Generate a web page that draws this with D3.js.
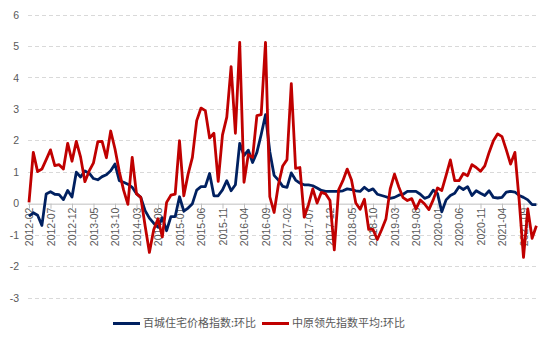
<!DOCTYPE html>
<html>
<head>
<meta charset="utf-8">
<script src="https://cdn.jsdelivr.net/npm/d3@7"></script>
<style>
  html, body { margin: 0; padding: 0; background: #fff; }
  svg { display: block; }
</style>
</head>
<body>
<svg id="chart" width="554" height="343"></svg>
<script>
// ---- data ----
const startMonth = "2012-02";
const monthCount = 119; // 2012-02 .. 2021-12
const parse = d3.utcParse("%Y-%m");
const fmt = d3.utcFormat("%Y-%m");
const categories = d3.utcMonth.range(parse(startMonth), d3.utcMonth.offset(parse(startMonth), monthCount)).map(fmt);

const seriesNames = ["百城住宅价格指数:环比", "中原领先指数平均:环比"];

const baichengValues = [
  -0.40, -0.29, -0.37, -0.69, 0.31, 0.38, 0.30, 0.29, 0.13, 0.42,
  0.21, 1.00, 0.85, 1.04, 0.97, 0.80, 0.76, 0.86, 0.92, 1.05,
  1.26, 0.73, 0.68, 0.62, 0.52, 0.32, 0.20, -0.22, -0.46, -0.62,
  -0.75, -0.45, -0.86, -0.41, -0.41, 0.22, -0.24, -0.14, 0.00, 0.43,
  0.54, 0.54, 0.96, 0.25, 0.25, 0.44, 0.73, 0.41, 0.60, 1.92,
  1.53, 1.70, 1.31, 1.63, 2.20, 2.83, 1.65, 0.90, 0.75, 0.55,
  0.52, 0.98, 0.75, 0.65, 0.60, 0.60, 0.57, 0.50, 0.42, 0.39,
  0.39, 0.39, 0.39, 0.41, 0.47, 0.45, 0.41, 0.39, 0.52, 0.41,
  0.47, 0.30, 0.26, 0.22, 0.17, 0.20, 0.27, 0.30, 0.39, 0.39,
  0.39, 0.30, 0.17, 0.22, 0.43, 0.32, -0.26, 0.12, 0.26, 0.33,
  0.54, 0.45, 0.54, 0.26, 0.41, 0.33, 0.26, 0.41, 0.20, 0.18,
  0.20, 0.37, 0.39, 0.37, 0.26, 0.20, 0.12, -0.03, -0.03
];

const zhongyuanValues = [
  0.04, 1.63, 1.02, 1.10, 1.40, 1.71, 1.21, 1.24, 1.10, 1.92,
  1.35, 1.98, 1.48, 0.70, 1.04, 1.30, 1.97, 1.98, 1.46, 2.31,
  1.74, 1.02, 0.43, -0.02, 1.47, 0.31, 0.20, -0.70, -1.55, -0.83,
  -0.48, -1.06, 0.04, 0.27, 0.30, 2.00, 0.25, 0.94, 1.47, 2.64,
  3.04, 2.96, 2.09, 2.24, 0.71, 2.19, 2.75, 4.36, 2.24, 5.13,
  0.68, 1.56, 1.47, 2.80, 2.83, 5.13, 0.22, -0.28, 0.60, 1.20,
  1.40, 3.82, 1.12, 1.15, -0.43, -0.03, 0.47, 0.02, 0.36, 0.31,
  0.10, -1.47, 0.44, 0.73, 1.10, 0.75, 0.02, -0.18, 0.14, -0.82,
  -0.82, -1.14, -0.83, -0.49, 0.47, 0.94, 0.53, 0.19, 0.10, 0.16,
  -0.17, 0.12, -0.01, -0.19, 0.12, 0.50, 0.42, 0.90, 1.39, 0.73,
  0.73, 0.96, 0.89, 1.24, 1.15, 1.03, 1.20, 1.63, 2.00, 2.22,
  2.13, 1.71, 1.26, 1.63, 0.10, -1.71, -0.17, -1.10, -0.70
];

const yTicks = [-3, -2, -1, 0, 1, 2, 3, 4, 5, 6];
const colors = ["#002060", "#C00000"];

// ---- chart ----
const svg = d3.select("#chart");
const x = d3.scalePoint().domain(categories).range([29, 536.4]);
const y = d3.scaleLinear().domain([-3, 6]).range([298, 15]);

const textColor = "#595959";
const latinFont = "'Liberation Sans', Arial, sans-serif";
const cjkFont = "'Noto Sans CJK SC', 'Liberation Sans', sans-serif";

// gridlines
svg.append("g").selectAll("line")
  .data(yTicks.filter(d => d !== 0))
  .join("line")
  .attr("x1", 28).attr("x2", 538)
  .attr("y1", d => y(d)).attr("y2", d => y(d))
  .attr("stroke", "#d9d9d9").attr("stroke-width", 1)
  .attr("stroke-dasharray", "4,3")
  .attr("shape-rendering", "crispEdges");

// y labels
svg.append("g").selectAll("text")
  .data(yTicks)
  .join("text")
  .attr("x", 19).attr("y", d => y(d))
  .attr("dy", "0.35em")
  .attr("text-anchor", "end")
  .attr("font-family", latinFont)
  .attr("font-size", 10.5)
  .attr("fill", textColor)
  .text(d => d);

// category axis at zero
const tickCats = categories.filter((d, i) => i % 5 === 0);
const xAxis = d3.axisBottom(x).tickValues(tickCats).tickSize(5).tickSizeOuter(0).tickFormat(d => d);
const gx = svg.append("g").attr("transform", `translate(0,${y(0)})`).call(xAxis);
gx.select(".domain").attr("stroke", "#bfbfbf").attr("d", `M28,0.5H538`);
gx.selectAll(".tick line").attr("stroke", "#bfbfbf");
gx.selectAll(".tick text")
  .attr("font-family", latinFont)
  .attr("font-size", 10.5)
  .attr("fill", textColor)
  .attr("text-anchor", "end")
  .attr("transform", "rotate(-90)")
  .attr("x", -4).attr("y", 0).attr("dy", "0.35em");

// lines
const line = d3.line().x((d, i) => x(categories[i])).y(d => y(d)).curve(d3.curveLinear);
[baichengValues, zhongyuanValues].forEach((vals, k) => {
  svg.append("path")
    .datum(vals)
    .attr("d", line)
    .attr("fill", "none")
    .attr("stroke", colors[k])
    .attr("stroke-width", 2.8)
    .attr("stroke-linejoin", "round")
    .attr("stroke-linecap", "butt");
});

// legend
const legendItems = [
  { name: seriesNames[0], color: colors[0], x: 113 },
  { name: seriesNames[1], color: colors[1], x: 262 }
];
const lg = svg.append("g");
legendItems.forEach(it => {
  lg.append("line")
    .attr("x1", it.x).attr("x2", it.x + 27)
    .attr("y1", 323.5).attr("y2", 323.5)
    .attr("stroke", it.color).attr("stroke-width", 3);
  lg.append("text")
    .attr("x", it.x + 30).attr("y", 323.5)
    .attr("dy", "0.36em")
    .attr("font-family", cjkFont)
    .attr("font-size", 11)
    .attr("fill", textColor)
    .text(it.name);
});
</script>
</body>
</html>
